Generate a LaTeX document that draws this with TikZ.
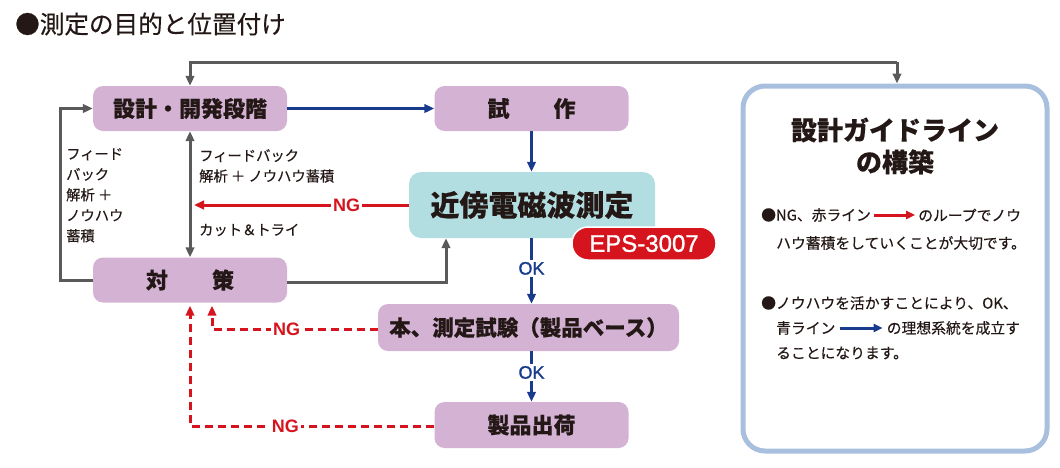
\documentclass[tikz,border=0pt]{standalone}
\usepackage{fontspec}
\setmainfont{Noto Sans CJK JP}[FakeBold=0.35]
\newfontfamily\lat{Liberation Sans}
\newfontfamily\latm{Liberation Sans}[FakeBold=1.2]
\usetikzlibrary{arrows.meta,calc}
\definecolor{purp}{HTML}{D3B2D4}
\definecolor{cyanb}{HTML}{B3DEE1}
\definecolor{redc}{HTML}{D6141E}
\definecolor{bluec}{HTML}{183B8E}
\definecolor{grayc}{HTML}{5A5A5A}
\definecolor{boxb}{HTML}{A8BFDE}
\definecolor{txt}{HTML}{231815}
\newcommand{\fs}[2]{\fontsize{#1}{#2}\selectfont}
\begin{document}
\begin{tikzpicture}[x=1pt,y=-1pt,
  tip/.style={-{Triangle[length=10pt,width=8.5pt]}},
  flowbox/.style={fill=purp, rounded corners=10pt, minimum width=194pt, minimum height=45pt,
     inner sep=0pt, text=txt, font=\fs{22}{26}\bfseries},
  gline/.style={draw=grayc, line width=3pt},
  bline/.style={draw=bluec, line width=3pt},
  rline/.style={draw=redc, line width=3pt},
  rdash/.style={draw=redc, line width=3pt, dash pattern=on 8pt off 5pt},
  nglab/.style={fill=white, text=redc, font=\lat\bfseries\fs{18}{18}, inner sep=2pt},
  oklab/.style={fill=white, text=bluec, font=\latm\fs{18}{18}, inner sep=2pt},
  small/.style={text=txt, font=\fs{14.3}{20.5}, inner sep=0pt, align=left},
  btxt/.style={text=txt, font=\fs{14.8}{18}, inner sep=0pt, anchor=west}
]
\useasboundingbox (0,0) rectangle (1060,467);

% title
\node[anchor=west, text=txt, font=\fs{24.6}{28}, inner sep=0pt] (title) at (15,24) {●測定の目的と位置付け};

% nodes
\node[flowbox] (sekkei) at (190,108.5) {設計・開発段階};
\node[flowbox] (shisaku) at (531.5,108.5) {試\hspace{2em}作};
\node[fill=cyanb, rounded corners=12pt, minimum width=246pt, minimum height=66pt, inner sep=0pt,
      text=txt, font=\fs{29}{32}\bfseries] (kinbo) at (532,205) {近傍電磁波測定};
\node[fill=redc, draw=white, line width=1.5pt, rounded corners=16pt, minimum width=144pt, minimum height=33pt,
      inner sep=0pt, text=white, font=\latm\fs{24}{24}] (eps) at (644,243.5) {EPS-3007};
\node[flowbox] (taisaku) at (190,280) {対\hspace{2em}策};
\node[flowbox, minimum width=301pt, minimum height=47pt, font=\fs{21.5}{26}\bfseries] (hon) at (528.5,327.5) {本、測定試験（製品ベース）};
\node[flowbox, minimum height=46pt] (shukka) at (531.5,425) {製品出荷};

% right box
\node[draw=boxb, line width=5pt, fill=white, rounded corners=22pt, minimum width=304pt, minimum height=365pt,
      inner sep=0pt] (guide) at (895,268.5) {};
\node[text=txt, font=\fs{26}{32}\bfseries, align=center, inner sep=0pt] (gtitle) at (895,146) {設計ガイドライン\\の構築};

% bullet texts
\node[btxt] (b1a) at (761,215) {●NG、赤ライン};
\draw[rline, -{Triangle[length=9pt,width=8pt]}] (b1a.east) ++(3,0) coordinate (r1s) -- ++(41,0) coordinate (r1e);
\node[btxt] (b1b) at ($(r1e)+(3,0)$) {のループでノウ};
\node[btxt] (b1c) at (776,243) {ハウ蓄積をしていくことが大切です。};
\node[btxt] (b2a) at (761,303) {●ノウハウを活かすことにより、OK、};
\node[btxt] (b2b) at (776,328) {青ライン};
\draw[bline, -{Triangle[length=9pt,width=8pt]}] (b2b.east) ++(4,0) coordinate (b2s) -- ++(43,0) coordinate (b2e);
\node[btxt] (b2c) at ($(b2e)+(4,0)$) {の理想系統を成立す};
\node[btxt] (b2d) at (776,353) {ることになります。};

% labels
\node[small, anchor=north west] (lfb) at (66,148) {フィード\\バック\\解析 ＋\\ノウハウ\\蓄積};
\node[small, anchor=north west] (mfb) at (199,149) {フィードバック\\解析 ＋ ノウハウ蓄積};
\node[small, anchor=west] (cut) at (199,230) {カット＆トライ};

% gray connectors
\coordinate (topR) at (897,62);
\draw[gline, tip] (topR) -- (guide.north -| topR);
\draw[gline, tip] (topR) -| (sekkei.north);
\coordinate (leftL) at (60,280);
\draw[gline, tip] (taisaku.west) -- (leftL) |- (sekkei.west);
\draw[gline, {Triangle[length=10pt,width=8.5pt]}-{Triangle[length=10pt,width=8.5pt]}] (sekkei.south) -- (taisaku.south |- taisaku.north);
\coordinate (grUp) at (446,282);
\draw[gline, tip] (taisaku.east |- grUp) -- (grUp) -- (grUp |- kinbo.south);

% blue connectors
\draw[bline, tip] (sekkei.east) -- (shisaku.west);
\draw[bline, tip] (shisaku.south) -- (shisaku.south |- kinbo.north);
\draw[bline, tip] (kinbo.south -| shisaku.south) -- (shisaku.south |- hon.north) node[oklab, pos=0.46] (ok1) {OK};
\draw[bline, tip] (hon.south -| shukka.north) -- (shukka.north) node[oklab, pos=0.42] (ok2) {OK};

% red connectors
\coordinate (ngTip) at (194,205);
\draw[rline, tip] (kinbo.west) -- (ngTip) node[nglab, pos=0.29] (ng1) {NG};
\coordinate (d1) at (212,329);
\draw[rdash, tip] (hon.west |- d1) -- (d1) node[nglab, pos=0.55] (ng2) {NG} -- ($(taisaku.south)+(22,3)$);
\coordinate (d2) at (190,426);
\draw[rdash, tip] (shukka.west |- d2) -- (d2) node[nglab, pos=0.61] (ng3) {NG} -- ($(taisaku.south)+(0,3)$);
\end{tikzpicture}
\end{document}
